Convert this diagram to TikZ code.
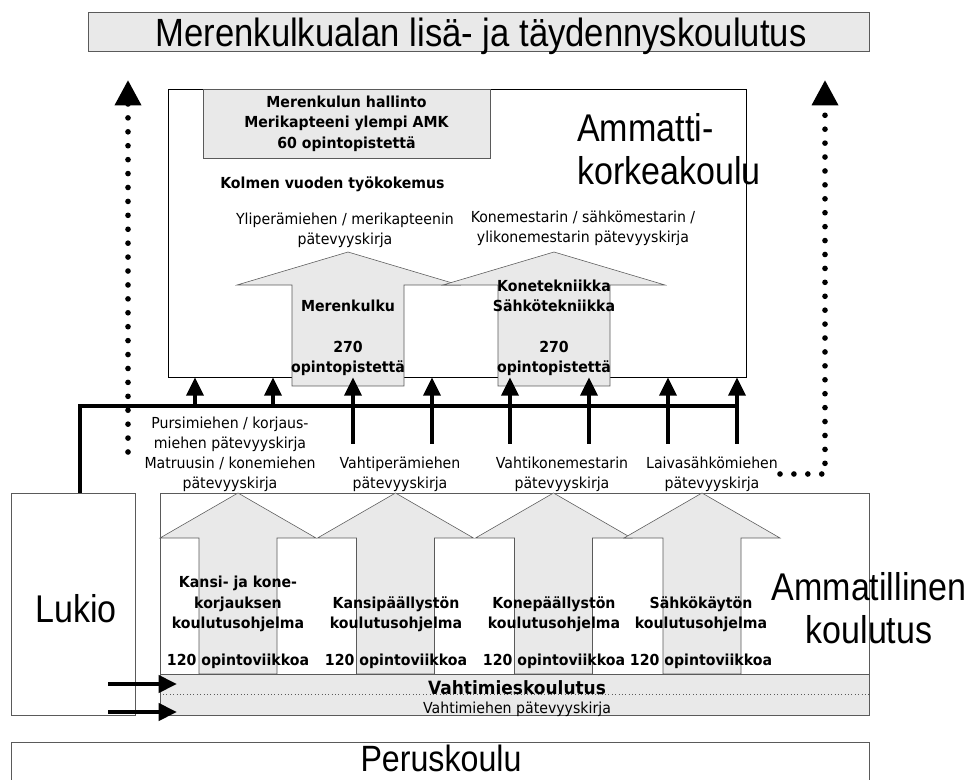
\documentclass[tikz,border=0pt]{standalone}
\usepackage{fontspec}
\newfontfamily\bigsans[FakeStretch=0.88]{Liberation Sans}
\newfontfamily\smallsans[FakeStretch=0.93]{DejaVu Sans}
\usetikzlibrary{arrows.meta}
\definecolor{lightfill}{RGB}{233,233,233}
\definecolor{edgegray}{RGB}{90,90,90}

\begin{document}
\begin{tikzpicture}[x=0.025cm,y=-0.025cm,frame/.style={draw=edgegray,thin,fill=white,inner sep=0pt},graybox/.style={draw=edgegray,thin,fill=lightfill,inner sep=0pt},blockarrow/.style={draw=edgegray,thin,fill=lightfill,line join=miter},bigtext/.style={font=\bigsans\fontsize{27.5}{31}\selectfont,align=center,inner sep=0pt},smalltext/.style={font=\smallsans\fontsize{10.8}{14.3}\selectfont,align=center,inner sep=0pt},boldtext/.style={font=\smallsans\bfseries\fontsize{10.8}{14.5}\selectfont,align=center,inner sep=0pt},bus/.style={line width=2.8pt},thickarrow/.style={line width=2.8pt,-{Triangle[length=13pt,width=12pt]}},dotarrow/.style={line width=4pt,line cap=round,dash pattern=on 0pt off 9.9pt,-{Triangle[length=18pt,width=18pt]}}]
\useasboundingbox (0,0) rectangle (968,780);
\clip (0,0) rectangle (968,780);
\node[graybox,minimum width=19.525cm,minimum height=0.975cm] (banner) at (478.5,31.5) {};
\node[bigtext,font=\bigsans\fontsize{28}{32}\selectfont] (bannertext) at (481,36) {Merenkulkualan lisä- ja täydennyskoulutus};
\node[draw=black,thin,fill=white,minimum width=14.45cm,minimum height=7.2cm,inner sep=0pt] (amk) at (457,233) {};
\node[graybox,boldtext,minimum width=7.175cm,minimum height=1.725cm] (hallinto) at (346.5,123.5) {Merenkulun hallinto\\Merikapteeni ylempi AMK\\60 opintopistettä};
\node[bigtext,align=left,anchor=west] (amktext) at (577,149) {Ammatti-\\korkeakoulu};
\node[boldtext,anchor=west] (tyokokemus) at (220,184) {Kolmen vuoden työkokemus};
\node[smalltext] (ylipera) at (345,230) {Yliperämiehen / merikapteenin\\pätevyyskirja};
\node[smalltext] (konemestari) at (583,228) {Konemestarin / sähkömestarin /\\ylikonemestarin pätevyyskirja};
\foreach \c in {348,554}
  \draw[blockarrow] ({\c-56},386) -- ({\c-56},285) -- ({\c-111},285) -- (\c,252) -- ({\c+111},285) -- ({\c+56},285) -- ({\c+56},386) -- cycle;
\node[boldtext] (merenkulku) at (348,338) {Merenkulku\\[14.3pt]270\\opintopistettä};
\node[boldtext] (konetekniikka) at (554,328) {Konetekniikka\\Sähkötekniikka\\[14.3pt]270\\opintopistettä};
\node[frame,minimum width=3.1cm,minimum height=5.55cm] (lukio) at (73,604) {};
\node[bigtext] (lukiotext) at (76,609) {Lukio};
\coordinate (busl) at (80,406);
\coordinate (busr) at (737,406);
\draw[bus] (lukio.north -| busl) -- (busl) -- (busr);
\foreach \x [count=\i] in {195,273} {
  \coordinate (bus\i) at (\x,406);
  \draw[thickarrow] (bus\i) -- (bus\i |- amk.south);
}
\foreach \x [count=\i] in {353,432,510,589,668,737} {
  \coordinate (cert\i) at (\x,444);
  \draw[thickarrow] (cert\i) -- (cert\i |- amk.south);
}
\node[smalltext] (pursimies) at (230,454) {Pursimiehen / korjaus-\\miehen pätevyyskirja\\Matruusin / konemiehen\\pätevyyskirja};
\node[smalltext] (vahtipera) at (400,474) {Vahtiperämiehen\\pätevyyskirja};
\node[smalltext] (vahtikone) at (562,474) {Vahtikonemestarin\\pätevyyskirja};
\node[smalltext] (laivasahko) at (712,474) {Laivasähkömiehen\\pätevyyskirja};
\coordinate (dotl) at (128,452);
\coordinate (dotltop) at (128,80);
\draw[dotarrow] (dotl) -- (dotltop);
\coordinate (dotr) at (780,474);
\coordinate (dotrtop) at (825,80);
\draw[dotarrow] (dotr) -| (dotrtop);
\node[frame,minimum width=17.725cm,minimum height=5.55cm] (ammat) at (514.5,604) {};
\foreach \c in {238,395.5,553.5,702}
  \draw[blockarrow] ({\c-39},674) -- ({\c-39},538) -- ({\c-78},538) -- (\c,493) -- ({\c+78},538) -- ({\c+39},538) -- ({\c+39},674) -- cycle;
\node[boldtext] (kansikone) at (238,604) {Kansi- ja kone-\\korjauksen\\koulutusohjelma};
\node[boldtext] (kansipaal) at (396,614) {Kansipäällystön\\koulutusohjelma};
\node[boldtext] (konepaal) at (554,614) {Konepäällystön\\koulutusohjelma};
\node[boldtext] (sahkokaytto) at (701,614) {Sähkökäytön\\koulutusohjelma};
\foreach \c [count=\i] in {238,396,554,701}
  \node[boldtext] (ov\i) at (\c,661) {120 opintoviikkoa};
\node[graybox,minimum width=17.725cm,minimum height=1.025cm] (vahti) at (514.5,694.5) {};
\draw[edgegray,dotted] (vahti.west) -- (vahti.east);
\node[boldtext,font=\smallsans\bfseries\fontsize{13}{15}\selectfont] (vahtimies) at (517,688) {Vahtimieskoulutus};
\node[smalltext] (vahtikirja) at (517,709) {Vahtimiehen pätevyyskirja};
\coordinate (vahtil1) at (108,684);
\coordinate (vahtil2) at (108,712);
\coordinate (vahtitip1) at (177,684);
\coordinate (vahtitip2) at (177,712);
\draw[thickarrow] (vahtil1) -- (vahtitip1);
\draw[thickarrow] (vahtil2) -- (vahtitip2);
\node[bigtext] (ammattext) at (869,608) {Ammatillinen\\koulutus};
\node[frame,minimum width=21.45cm,minimum height=1.45cm] (perus) at (440,771) {};
\node[bigtext,font=\bigsans\fontsize{26}{30}\selectfont,anchor=base] (perustext) at (441,771) {Peruskoulu};
\end{tikzpicture}
\end{document}
